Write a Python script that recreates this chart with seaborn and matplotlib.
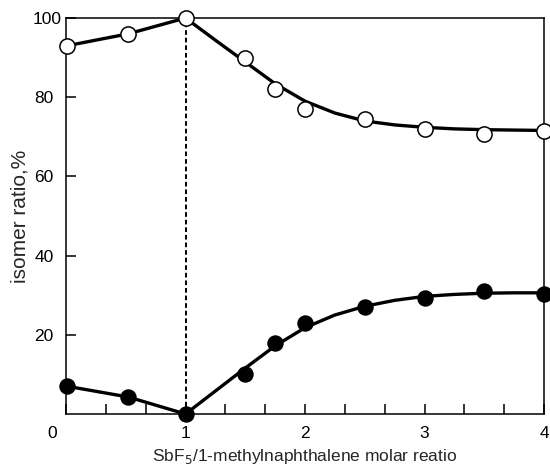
import numpy as np
import pandas as pd
import matplotlib
matplotlib.use('Agg')
import matplotlib.pyplot as plt
import matplotlib.transforms as mtransforms
import seaborn as sns

# measured points
ratio = [0.01, 0.52, 1.0, 1.5, 1.75, 2.0, 2.5, 3.0, 3.5, 4.0]
open_isomer = [93, 96, 100, 90, 82, 77, 74.5, 72, 70.7, 71.5]
filled_isomer = [7, 4.3, 0, 10, 18, 23, 27, 29.4, 31, 30.2]

# drawn trend lines
curve_x = [0.01, 0.52, 1.0, 1.25, 1.5, 1.75, 2.0, 2.25, 2.5, 2.75, 3.0, 3.25, 3.5, 3.75, 4.0]
curve_open = [93, 96, 100, 94.4, 88.9, 83.4, 79, 76, 74, 73, 72.4, 72, 71.8, 71.7, 71.6]
curve_filled = [7, 4.3, 0, 5.8, 11.6, 17.2, 21.8, 25, 27.2, 28.7, 29.7, 30.2, 30.5, 30.6, 30.6]

dashed_x = [1.0]
xticks = [0, 1, 2, 3, 4]
yticks = [20, 40, 60, 80, 100]

sns.set_style('ticks')
plt.rcParams['font.family'] = ['Liberation Sans', 'DejaVu Sans']
plt.rcParams['font.size'] = 12.5

points = pd.DataFrame({'ratio': ratio, 'open': open_isomer, 'filled': filled_isomer})
curves = pd.DataFrame({'x': curve_x, 'open': curve_open, 'filled': curve_filled})

fig = plt.figure(figsize=(5.5, 4.68), dpi=100)
ax = fig.add_axes([66 / 550, 54 / 468, 478 / 550, 396 / 468])

ax.vlines(dashed_x, 0, 100, colors='black', linestyles=(0, (2.4, 1.5)), linewidth=1.4, zorder=1)

sns.lineplot(data=curves, x='x', y='open', ax=ax, color='black', linewidth=2.4,
             sort=False, estimator=None, zorder=2)
sns.lineplot(data=curves, x='x', y='filled', ax=ax, color='black', linewidth=2.4,
             sort=False, estimator=None, zorder=2)

sns.scatterplot(data=points, x='ratio', y='open', ax=ax, s=120, facecolor='white',
                edgecolor='black', linewidth=1.1, zorder=3, clip_on=False)
sns.scatterplot(data=points, x='ratio', y='filled', ax=ax, s=140, color='black',
                edgecolor='black', linewidth=0, zorder=3, clip_on=False)

ax.set_xlim(0, 4)
ax.set_ylim(0, 100)
ax.set_xticks(xticks)
ax.set_xticks(np.arange(0, 4.01, 1 / 3), minor=True)
ax.set_yticks(yticks)
ax.tick_params(axis='both', which='both', direction='in', length=7, width=1.1, colors='black')
ax.tick_params(axis='x', which='major', pad=9)
ax.tick_params(axis='y', which='major', pad=9)
for sp in ax.spines.values():
    sp.set_visible(True)
    sp.set_linewidth(1.1)
    sp.set_color('black')

# small offsets of a couple of tick labels, as in the original
lbl0 = ax.get_xticklabels()[0]
lbl0.set_transform(lbl0.get_transform() + mtransforms.ScaledTranslation(-14 / 100, 0, fig.dpi_scale_trans))
lbl100 = ax.get_yticklabels()[-1]
lbl100.set_transform(lbl100.get_transform() + mtransforms.ScaledTranslation(8 / 100, 0, fig.dpi_scale_trans))

ax.set_xlabel('SbF$_5$/1-methylnaphthalene molar reatio', labelpad=4)
ax.set_ylabel('isomer ratio,%', fontsize=15, labelpad=2)

fig.savefig('out.png', dpi=100)
